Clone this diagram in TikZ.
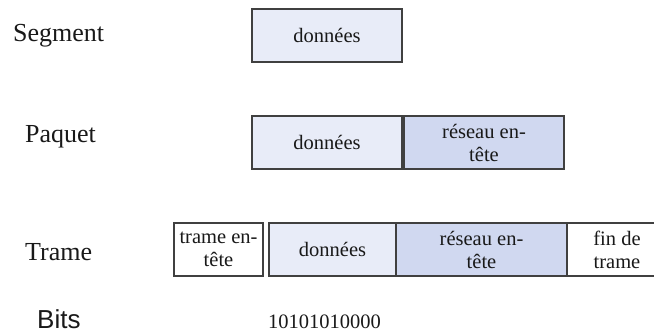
\documentclass[tikz,border=0pt]{standalone}
\usepackage{fontspec}
\setmainfont{Liberation Serif}
\newfontfamily\labelsans{Liberation Sans}
\definecolor{datafill}{RGB}{232,236,248}
\definecolor{hdrfill}{RGB}{208,216,240}
\definecolor{edge}{RGB}{64,64,64}
\begin{document}
\begin{tikzpicture}[x=1pt,y=-1pt,
  field/.style={draw=edge,line width=1.4pt,inner sep=0pt,align=center,
    font=\fontsize{20.5}{23}\selectfont,text=black!90},
  datafld/.style={field,fill=datafill},
  hdrfld/.style={field,fill=hdrfill},
  plainfld/.style={field,fill=white},
  layer/.style={anchor=base west,inner sep=0pt,font=\fontsize{26}{30}\selectfont,text=black!90}]
\useasboundingbox (0,0) rectangle (654,334);
\begin{scope}
\clip (0,0) rectangle (654,334);
% layer names
\node[layer] (lseg) at (13,42) {Segment};
\node[layer] (lpaq) at (25,143) {Paquet};
\node[layer] (ltra) at (25,260) {Trame};
\node[layer,font=\labelsans\fontsize{26}{28}\selectfont] (lbit) at (37,328) {Bits};
% segment
\node[datafld,minimum width=150,minimum height=53] (sdata) at (327,35.5) {données};
% packet
\node[datafld,minimum width=150,minimum height=53] (pdata) at (327,142.5) {données};
\node[hdrfld,minimum width=160,minimum height=53] (phdr) at (484,142.5) {réseau en-\\tête};
% frame
\node[plainfld,minimum width=89,minimum height=53] (fhdr) at (218.5,249.5) {trame en-\\tête};
\node[datafld,minimum width=127,minimum height=53] (fdata) at (332.5,249.5) {données};
\node[hdrfld,minimum width=171,minimum height=53] (fnet) at (481.5,249.5) {réseau en-\\tête};
\node[plainfld,minimum width=100,minimum height=53] (ftrl) at (617,249.5) {fin de\\trame};
% bits
\node[anchor=base west,inner sep=0pt,font=\fontsize{20.5}{24}\selectfont,text=black!90] (bits) at (268,328) {10101010000};
\end{scope}
\end{tikzpicture}
\end{document}
